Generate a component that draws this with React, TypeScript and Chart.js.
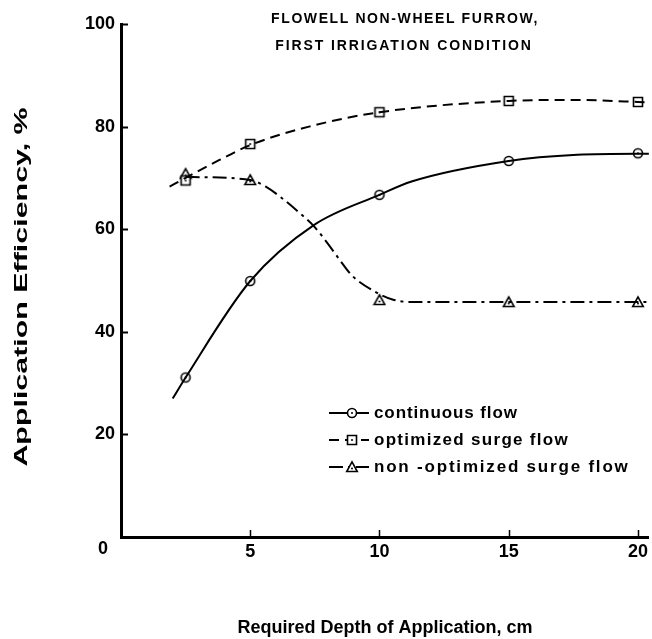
import React, { useEffect, useRef } from 'react';
import { Chart, registerables } from 'chart.js';

Chart.register(...registerables);

// ---- data ----
const markerX = [2.5, 5, 10, 15, 20];
const continuousY = [31.1, 49.9, 66.7, 73.3, 74.8];
const optimizedY = [69.5, 76.6, 82.8, 85.0, 84.8];
const nonOptimizedY = [70.8, 69.6, 46.2, 45.8, 45.8];

// fitted curves as drawn in the figure
const continuousCurveX = [2.0, 2.5, 5, 7.46, 10, 11.24, 15, 17.65, 20, 20.42];
const continuousCurveY = [27.0, 31.1, 49.9, 60.8, 66.7, 69.3, 73.3, 74.5, 74.7, 74.7];
const optimizedCurveX = [1.88, 2.5, 3.81, 5, 7.27, 10, 15, 17.5, 20, 20.42];
const optimizedCurveY = [68.3, 70.0, 73.5, 76.4, 80.0, 82.8, 85.0, 85.2, 84.8, 84.7];
const nonOptCurveX = [2.5, 5, 5.6, 6.24, 6.88, 7.46, 8.0, 8.42, 8.93, 9.83, 10.5, 11.24, 15, 20, 20.42];
const nonOptCurveY = [70.2, 69.6, 68.3, 66.0, 63.3, 60.6, 57.2, 54.3, 51.0, 47.8, 46.3, 45.8, 45.8, 45.8, 45.8];

const xTickValues = [5, 10, 15, 20];
const yTickValues = [20, 40, 60, 80, 100];
const titleLines = ['FLOWELL NON-WHEEL FURROW,', 'FIRST IRRIGATION CONDITION'];
const legendLabels = ['continuous flow', 'optimized surge flow', 'non -optimized surge flow'];
const xTitle = 'Required Depth of Application, cm';
const yTitle = 'Application Efficiency, %';

const FONT = '"Liberation Sans", Arial, Helvetica, sans-serif';

type Kind = 'circle' | 'square' | 'triangle';

function makeMarker(kind: Kind): HTMLCanvasElement {
  const c = document.createElement('canvas');
  c.width = 14;
  c.height = 14;
  const g = c.getContext('2d')!;
  g.lineWidth = 1.6;
  g.strokeStyle = '#000';
  g.fillStyle = '#fff';
  g.beginPath();
  if (kind === 'circle') {
    g.arc(7, 7, 4.5, 0, Math.PI * 2);
  } else if (kind === 'square') {
    g.rect(2.5, 2.5, 9, 9);
  } else {
    g.moveTo(7, 1.8);
    g.lineTo(12.3, 11.5);
    g.lineTo(1.7, 11.5);
    g.closePath();
  }
  g.fill();
  g.stroke();
  g.fillStyle = '#000';
  g.beginPath();
  g.arc(7, kind === 'triangle' ? 8.5 : 7, 1, 0, Math.PI * 2);
  g.fill();
  return c;
}

const pts = (xs: number[], ys: number[]) => xs.map((x, i) => ({ x, y: ys[i] }));

const DASH_OPT = [10, 6];
const DASH_NON = [14, 5, 3, 5];

export default function App() {
  const ref = useRef<HTMLCanvasElement | null>(null);

  useEffect(() => {
    if (!ref.current) return;
    const circle = makeMarker('circle');
    const square = makeMarker('square');
    const triangle = makeMarker('triangle');

    const overlay = {
      id: 'overlay',
      afterDraw(chart: any) {
        const ctx = chart.ctx as CanvasRenderingContext2D;
        const xs = chart.scales.x;
        const ys = chart.scales.y;
        const left = chart.chartArea.left;
        const bottom = chart.chartArea.bottom;
        ctx.save();
        ctx.strokeStyle = '#000';
        // inward tick marks
        ctx.lineWidth = 2;
        yTickValues.forEach((v) => {
          const py = Math.round(ys.getPixelForValue(v)) + 0.5;
          ctx.beginPath();
          ctx.moveTo(left, py);
          ctx.lineTo(left + 7, py);
          ctx.stroke();
        });
        ctx.lineWidth = 1.5;
        xTickValues.forEach((v) => {
          const px = Math.round(xs.getPixelForValue(v)) + 0.5;
          ctx.beginPath();
          ctx.moveTo(px, bottom);
          ctx.lineTo(px, bottom - 7);
          ctx.stroke();
        });
        ctx.fillStyle = '#000';
        // origin label
        ctx.font = `bold 18px ${FONT}`;
        ctx.textAlign = 'center';
        ctx.textBaseline = 'middle';
        ctx.fillText('0', 103, 549);

        // title
        ctx.font = `bold 14px ${FONT}`;
        (ctx as any).letterSpacing = '1.6px';
        ctx.fillText(titleLines[0], 405, 19);
        (ctx as any).letterSpacing = '1.9px';
        ctx.fillText(titleLines[1], 404, 46);

        // axis titles
        ctx.font = `bold 18px ${FONT}`;
        (ctx as any).letterSpacing = '0px';
        ctx.fillText(xTitle, 385, 628);
        ctx.save();
        ctx.translate(22, 287);
        ctx.rotate(-Math.PI / 2);
        ctx.scale(1.6, 1);
        ctx.font = `bold 19px ${FONT}`;
        ctx.fillText(yTitle, 0, 0);
        ctx.restore();

        // legend
        const rows = [413, 440, 467];
        const dashes = [[], DASH_OPT, DASH_NON];
        const marks = [circle, square, triangle];
        const spacing = ['0.9px', '1.3px', '1.8px'];
        ctx.font = `bold 17px ${FONT}`;
        ctx.textAlign = 'left';
        rows.forEach((ry, i) => {
          ctx.lineWidth = 1.8;
          ctx.setLineDash(dashes[i]);
          ctx.beginPath();
          ctx.moveTo(329, ry);
          ctx.lineTo(369, ry);
          ctx.stroke();
          ctx.setLineDash([]);
          const m = marks[i];
          ctx.drawImage(m, 352 - m.width / 2, ry - m.height / 2);
          (ctx as any).letterSpacing = spacing[i];
          ctx.fillText(legendLabels[i], 374, ry);
        });
        ctx.restore();
      },
    };

    const lineDs = (data: any[], dash: number[]) => ({
      type: 'line' as const,
      data,
      borderColor: '#000',
      borderWidth: 2,
      borderDash: dash,
      pointRadius: 0,
      fill: false,
      cubicInterpolationMode: 'monotone' as const,
      clip: false as any,
    });
    const markDs = (data: any[], img: HTMLCanvasElement) => ({
      type: 'line' as const,
      data,
      showLine: false,
      pointStyle: img,
      pointRadius: 5,
      borderColor: '#000',
      backgroundColor: '#fff',
      clip: false as any,
    });

    const chart = new Chart(ref.current, {
      type: 'line',
      data: {
        datasets: [
          lineDs(pts(continuousCurveX, continuousCurveY), []),
          lineDs(pts(optimizedCurveX, optimizedCurveY), DASH_OPT),
          lineDs(pts(nonOptCurveX, nonOptCurveY), DASH_NON),
          markDs(pts(markerX, continuousY), circle),
          markDs(pts(markerX, optimizedY), square),
          markDs(pts(markerX, nonOptimizedY), triangle),
        ] as any,
      },
      options: {
        animation: false,
        responsive: false,
        devicePixelRatio: 1,
        layout: { autoPadding: false, padding: { top: 24, right: -3, left: 0, bottom: 0 } },
        plugins: { legend: { display: false }, tooltip: { enabled: false }, title: { display: false } },
        scales: {
          x: {
            type: 'linear',
            min: 0,
            max: 20.42,
            afterFit: (s: any) => {
              s.height = 102;
            },
            grid: { display: false, drawTicks: false },
            border: { display: true, color: '#000', width: 3 },
            ticks: {
              stepSize: 5,
              includeBounds: false,
              autoSkip: false,
              maxRotation: 0,
              padding: 4,
              color: '#000',
              font: { family: FONT, size: 18, weight: 'bold' },
              callback: (v: any) => (xTickValues.includes(Number(v)) ? String(v) : ''),
            },
          },
          y: {
            type: 'linear',
            min: 0,
            max: 100,
            afterFit: (s: any) => {
              s.width = 121;
            },
            grid: { display: false, drawTicks: false },
            border: { display: true, color: '#000', width: 3 },
            ticks: {
              stepSize: 20,
              padding: 6,
              color: '#000',
              font: { family: FONT, size: 18, weight: 'bold' },
              callback: (v: any) => (yTickValues.includes(Number(v)) ? String(v) : ''),
            },
          },
        } as any,
      },
      plugins: [overlay],
    });
    return () => chart.destroy();
  }, []);

  return (
    <div style={{ position: 'absolute', left: 0, top: 0, width: 652, height: 639, background: '#fff' }}>
      <canvas ref={ref} width={652} height={639} style={{ display: 'block' }} />
    </div>
  );
}
